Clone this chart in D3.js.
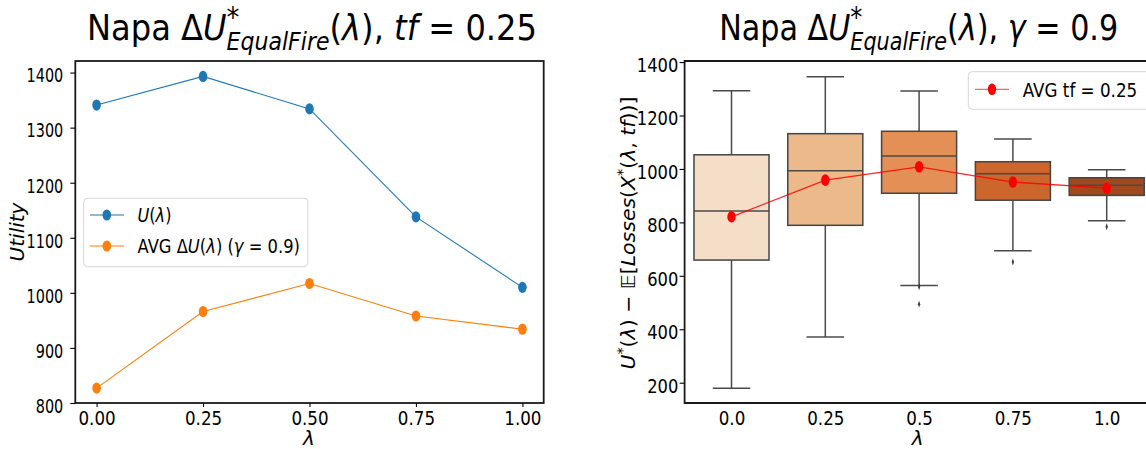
<!DOCTYPE html>
<html lang="en">
<head>
<meta charset="UTF-8">
<title>Napa EqualFire</title>
<style>
  body { margin: 0; background: #fff; }
  svg { display: block; font-family: "DejaVu Sans", sans-serif; }
  svg text { white-space: pre; fill: #000; font-family: "DejaVu Sans", sans-serif; }
</style>
</head>
<body>
<svg width="1146" height="449"></svg>
<script src="https://d3js.org/d3.v7.min.js"></script>
<script>
// left panel: U(lambda) and avg delta U
const lambdas = [0, 0.25, 0.5, 0.75, 1.0];
const uLambda = [1341, 1393, 1334, 1138, 1010];
const avgDeltaU = [827, 966, 1017, 958, 934];
const leftYTicks = [800, 900, 1000, 1100, 1200, 1300, 1400];
const leftXTicks = [0, 0.25, 0.5, 0.75, 1.0];

// right panel: box plots per lambda (gamma = 0.9)
const boxLabels = ["0.0", "0.25", "0.5", "0.75", "1.0"];
const whiskerHigh = [1293, 1345, 1292, 1112, 997];
const q3 = [1053, 1132, 1141, 1027, 967];
const median = [843, 993, 1048, 982, 939];
const q1 = [659, 789, 909, 883, 901];
const whiskerLow = [179, 371, 564, 694, 806];
const outliers = [[], [], [559, 494], [652], [784]];
const meanTf = [821, 958, 1008, 951, 928];
const rightYTicks = [200, 400, 600, 800, 1000, 1200, 1400];
const boxColors = ["#f4dec8", "#ebb98a", "#e38f55", "#cc662d", "#a0481e"];

const svg = d3.select("svg");
const L = {x0: 75.3, x1: 543.7, y0: 61, y1: 403};
const R = {x0: 684.6, x1: 1153.6, y0: 61, y1: 403};

const xL = d3.scaleLinear().domain([-0.05, 1.05]).range([L.x0, L.x1]);
const yL = d3.scaleLinear().domain([800, 1421]).range([L.y1, L.y0]);
const xR = d3.scalePoint().domain(boxLabels).range([R.x0, R.x1]).padding(0.5);
const yR = d3.scaleLinear().domain([124, 1404]).range([R.y1, R.y0]);

// text built from pieces (mathtext-like), returns group + natural width
function rich(parent, parts, baseSize) {
  const g = parent.append("g");
  let x = 0, lastStart = 0;
  parts.forEach(p => {
    const start = p.stack ? lastStart : x;
    const t = g.append("text").attr("x", start).attr("y", p.dy || 0)
      .style("font-size", (p.size || baseSize) + "px")
      .style("font-style", p.it ? "italic" : "normal")
      .text(p.t);
    const w = t.node().getComputedTextLength();
    if (p.stack) x = Math.max(x, start + w);
    else { lastStart = start; x = start + w; }
  });
  return {g, width: x};
}
function placeCenter(r, cx, base, targetW) {
  const s = targetW ? targetW / r.width : 1;
  r.g.attr("transform", `translate(${cx - r.width * s / 2},${base}) scale(${s},1)`);
}
function placeLeft(r, x, base, targetW) {
  const s = targetW ? targetW / r.width : 1;
  r.g.attr("transform", `translate(${x},${base}) scale(${s},1)`);
}
function placeVertical(r, bx, cy, targetW) {
  const s = targetW ? targetW / r.width : 1;
  r.g.attr("transform", `translate(${bx},${cy}) rotate(-90) translate(${-r.width * s / 2},0) scale(${s},1)`);
}
function tidyAxis(ax) {
  ax.attr("font-family", null).attr("font-size", null);
  ax.select(".domain").remove();
  ax.selectAll(".tick line").attr("stroke", "#000").attr("stroke-width", 1.1);
  ax.selectAll(".tick text").style("font-size", "19px");
}

// ---------- left panel ----------
svg.append("rect").attr("x", L.x0).attr("y", L.y0)
  .attr("width", L.x1 - L.x0).attr("height", L.y1 - L.y0)
  .attr("fill", "none").attr("stroke", "#1a1a1a").attr("stroke-width", 1.8);

const axL = svg.append("g").attr("transform", `translate(${L.x0},0)`)
  .call(d3.axisLeft(yL).tickValues(leftYTicks).tickSize(5).tickFormat(d3.format("d")));
tidyAxis(axL);
axL.selectAll(".tick text").attr("x", 0).attr("dy", "0.49em")
  .attr("transform", "translate(-12,0) scale(0.76,1)");

const axLb = svg.append("g").attr("transform", `translate(0,${L.y1})`)
  .call(d3.axisBottom(xL).tickValues(leftXTicks).tickSize(4).tickPadding(4.5).tickFormat(d3.format(".2f")));
tidyAxis(axLb);
axLb.selectAll(".tick text").attr("transform", "scale(0.88,1)");

const lineL = d3.line().x((d, i) => xL(lambdas[i])).y(d => yL(d));
const leftSeries = [
  {vals: uLambda, color: "#1f77b4"},
  {vals: avgDeltaU, color: "#ff7f0e"}
];
leftSeries.forEach(s => {
  svg.append("path").datum(s.vals).attr("d", lineL)
    .attr("fill", "none").attr("stroke", s.color).attr("stroke-width", 1.1);
  svg.append("g").selectAll("ellipse").data(s.vals).join("ellipse")
    .attr("cx", (d, i) => xL(lambdas[i])).attr("cy", d => yL(d))
    .attr("rx", 4.3).attr("ry", 5.6).attr("fill", s.color);
});

// legend left
svg.append("rect").attr("x", 83.6).attr("y", 198.3).attr("width", 224.3).attr("height", 68.4)
  .attr("rx", 4).attr("fill", "#fff").attr("fill-opacity", 0.8).attr("stroke", "#d6d6d6");
[215, 246].forEach((ly, k) => {
  svg.append("line").attr("x1", 90).attr("x2", 124).attr("y1", ly).attr("y2", ly)
    .attr("stroke", leftSeries[k].color).attr("stroke-width", 1.1);
  svg.append("ellipse").attr("cx", 106.8).attr("cy", ly).attr("rx", 4.3).attr("ry", 5.6)
    .attr("fill", leftSeries[k].color);
});
placeLeft(rich(svg, [{t: "U", it: true}, {t: "("}, {t: "λ", it: true}, {t: ")"}], 20), 137.5, 222, 34);
placeLeft(rich(svg, [{t: "AVG Δ"}, {t: "U", it: true}, {t: "("}, {t: "λ", it: true}, {t: ") ("},
  {t: "γ", it: true}, {t: " = 0.9)"}], 20), 137.5, 253, 162.5);

// titles
const titleHead = [
  {t: "Napa Δ"}, {t: "U", it: true},
  {t: "*", size: 28, dy: -13},
  {t: "EqualFire", it: true, size: 24, dy: 10.5, stack: true},
  {t: "("}, {t: "λ", it: true}, {t: "), "}
];
placeCenter(rich(svg, titleHead.concat([{t: "tf", it: true}, {t: " = 0.25"}]), 35), 312, 39.5, 450);

// y / x labels left
svg.append("text").attr("transform", "translate(23.5,232) rotate(-90)")
  .attr("text-anchor", "middle").style("font-size", "20px").style("font-style", "italic").text("Utility");
svg.append("text").attr("x", 309).attr("y", 445).attr("text-anchor", "middle")
  .style("font-size", "20px").style("font-style", "italic").text("λ");

// ---------- right panel ----------
const bw = xR.step() * 0.8;
const boxG = svg.append("g").selectAll("g").data(boxLabels).join("g");
boxG.append("line").attr("x1", d => xR(d)).attr("x2", d => xR(d))
  .attr("y1", (d, i) => yR(whiskerHigh[i])).attr("y2", (d, i) => yR(q3[i]))
  .attr("stroke", "#4a4a4a").attr("stroke-width", 1.5);
boxG.append("line").attr("x1", d => xR(d)).attr("x2", d => xR(d))
  .attr("y1", (d, i) => yR(q1[i])).attr("y2", (d, i) => yR(whiskerLow[i]))
  .attr("stroke", "#4a4a4a").attr("stroke-width", 1.5);
boxG.append("line").attr("x1", d => xR(d) - bw / 4).attr("x2", d => xR(d) + bw / 4)
  .attr("y1", (d, i) => yR(whiskerHigh[i])).attr("y2", (d, i) => yR(whiskerHigh[i]))
  .attr("stroke", "#4a4a4a").attr("stroke-width", 1.5);
boxG.append("line").attr("x1", d => xR(d) - bw / 4).attr("x2", d => xR(d) + bw / 4)
  .attr("y1", (d, i) => yR(whiskerLow[i])).attr("y2", (d, i) => yR(whiskerLow[i]))
  .attr("stroke", "#4a4a4a").attr("stroke-width", 1.5);
boxG.append("rect").attr("x", d => xR(d) - bw / 2).attr("width", bw)
  .attr("y", (d, i) => yR(q3[i])).attr("height", (d, i) => yR(q1[i]) - yR(q3[i]))
  .attr("fill", (d, i) => boxColors[i]).attr("stroke", "#454545").attr("stroke-width", 1.5);
boxG.append("line").attr("x1", d => xR(d) - bw / 2).attr("x2", d => xR(d) + bw / 2)
  .attr("y1", (d, i) => yR(median[i])).attr("y2", (d, i) => yR(median[i]))
  .attr("stroke", "#4a4a4a").attr("stroke-width", 1.5);
boxG.each(function(d, i) {
  d3.select(this).selectAll("path.flier").data(outliers[i]).join("path").attr("class", "flier")
    .attr("d", d3.symbol(d3.symbolDiamond, 14))
    .attr("transform", v => `translate(${xR(d)},${yR(v)}) scale(0.6,1)`)
    .attr("fill", "#3d3d3d");
});

const lineR = d3.line().x((d, i) => xR(boxLabels[i])).y(d => yR(d));
svg.append("path").datum(meanTf).attr("d", lineR)
  .attr("fill", "none").attr("stroke", "#ff0000").attr("stroke-opacity", 0.85).attr("stroke-width", 1.3);
svg.append("g").selectAll("ellipse").data(meanTf).join("ellipse")
  .attr("cx", (d, i) => xR(boxLabels[i])).attr("cy", d => yR(d))
  .attr("rx", 4.2).attr("ry", 5.8).attr("fill", "#ff0000");

// frame (right spine is outside the picture)
svg.append("path")
  .attr("d", `M${R.x1},${R.y0}H${R.x0}V${R.y1}H${R.x1}`)
  .attr("fill", "none").attr("stroke", "#1a1a1a").attr("stroke-width", 1.8);

const axR = svg.append("g").attr("transform", `translate(${R.x0},0)`)
  .call(d3.axisLeft(yR).tickValues(rightYTicks).tickSize(5).tickFormat(d3.format("d")));
tidyAxis(axR);
axR.selectAll(".tick text").attr("x", 0).attr("dy", "0.49em")
  .attr("transform", "translate(-6.3,0) scale(0.86,1)");

const axRb = svg.append("g").attr("transform", `translate(0,${R.y1})`)
  .call(d3.axisBottom(xR).tickSize(0).tickPadding(8.5));
tidyAxis(axRb);
axRb.selectAll(".tick text").attr("transform", "scale(0.88,1)");

// legend right
svg.append("rect").attr("x", 968.3).attr("y", 71.7).attr("width", 190).attr("height", 37.6)
  .attr("rx", 4).attr("fill", "#fff").attr("fill-opacity", 0.8).attr("stroke", "#d6d6d6");
svg.append("line").attr("x1", 975).attr("x2", 1009).attr("y1", 89.3).attr("y2", 89.3)
  .attr("stroke", "#ff0000").attr("stroke-opacity", 0.6).attr("stroke-width", 1.3);
svg.append("ellipse").attr("cx", 992).attr("cy", 89.3).attr("rx", 4.2).attr("ry", 5.8).attr("fill", "#ff0000");
placeLeft(rich(svg, [{t: "AVG tf = 0.25"}], 20), 1022.7, 96.5, 114.6);

placeCenter(rich(svg, titleHead.concat([{t: "γ", it: true}, {t: " = 0.9"}]), 35), 918.7, 39.5, 399);

// y / x labels right
placeVertical(rich(svg, [
  {t: "U", it: true}, {t: "*", size: 14, dy: -8}, {t: "("}, {t: "λ", it: true}, {t: ") − "},
  {t: "𝔼"}, {t: "["}, {t: "Losses", it: true}, {t: "("}, {t: "X", it: true},
  {t: "*", size: 14, dy: -8}, {t: "("}, {t: "λ", it: true}, {t: ", "}, {t: "tf", it: true}, {t: "))]"}
], 20), 635, 233, 273);
svg.append("text").attr("x", 917.6).attr("y", 445).attr("text-anchor", "middle")
  .style("font-size", "20px").style("font-style", "italic").text("λ");
</script>
</body>
</html>
